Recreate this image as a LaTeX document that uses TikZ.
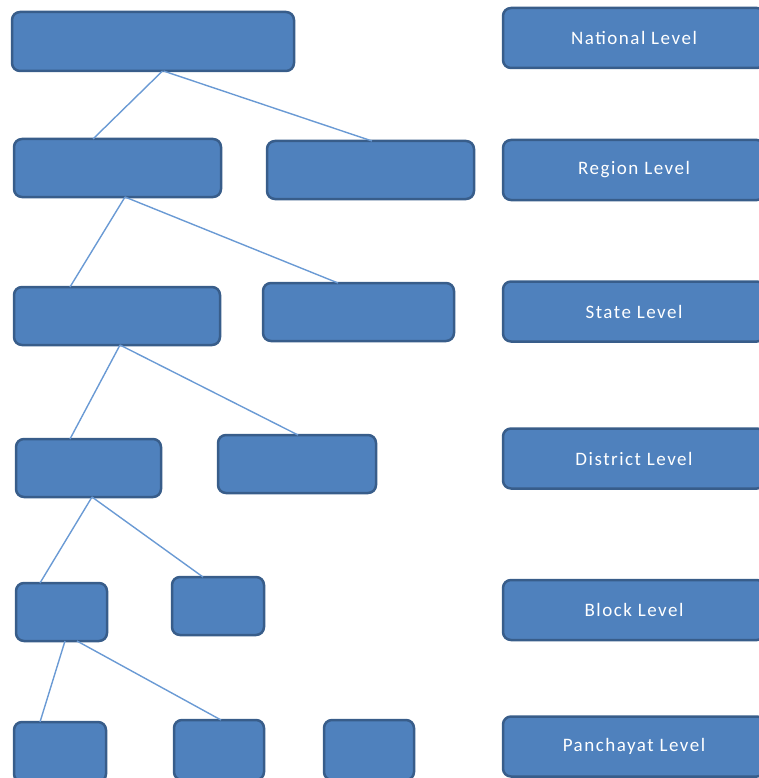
\documentclass[tikz,border=0pt]{standalone}
\usepackage{fontspec}
\newfontfamily\labfont[LetterSpace=8]{Carlito}
\definecolor{boxfill}{HTML}{4F81BD}
\definecolor{boxdraw}{HTML}{385D8A}
\definecolor{linkcol}{HTML}{6A9AD4}
\tikzset{
  box/.style={draw=boxdraw, fill=boxfill, line width=2.5pt, rounded corners=8pt, outer sep=0pt, minimum height=58pt, inner sep=0pt},
  lvl/.style={box, minimum width=262pt, minimum height=60pt, text=white, font=\labfont\fontsize{19}{22}\selectfont},
  link/.style={draw=linkcol, line width=1.4pt}
}
\begin{document}
\begin{tikzpicture}[x=1pt,y=-1pt]
\useasboundingbox (0,0) rectangle (758,778);
% tree boxes
\node[box, minimum width=282pt, minimum height=59pt] (n0) at (153,41.5) {};
\node[box, minimum width=207pt] (r1) at (117.5,168) {};
\node[box, minimum width=207pt] (r2) at (370.5,170) {};
\node[box, minimum width=206pt] (s1) at (117,316) {};
\node[box, minimum width=191pt] (s2) at (358.5,312) {};
\node[box, minimum width=145pt] (d1) at (88.5,468) {};
\node[box, minimum width=158pt] (d2) at (297,464) {};
\node[box, minimum width=91pt] (b1) at (61.5,612) {};
\node[box, minimum width=92pt] (b2) at (218,606) {};
\node[box, minimum width=92pt, minimum height=60pt] (p1) at (60,752) {};
\node[box, minimum width=90pt, minimum height=60pt] (p2) at (219,750) {};
\node[box, minimum width=90pt, minimum height=60pt] (p3) at (369,750) {};
% level labels
\node[lvl] (l1) at (634,38) {National Level};
\node[lvl] (l2) at (634,170) {Region Level};
\node[lvl] (l3) at (634,311.5) {State Level};
\node[lvl] (l4) at (634,458.5) {District Level};
\node[lvl] (l5) at (634,610) {Block Level};
\node[lvl] (l6) at (634,746.5) {Panchayat Level};
% connectors
\draw[link] ([xshift=9.5pt]n0.south) -- ([xshift=-24.5pt]r1.north);
\draw[link] ([xshift=10.5pt]n0.south) -- ([xshift=1.5pt]r2.north);
\draw[link] ([xshift=7.5pt]r1.south) -- ([xshift=-47pt]s1.north);
\draw[link] ([xshift=7.5pt]r1.south) -- ([xshift=-20.5pt]s2.north);
\draw[link] ([xshift=3pt]s1.south) -- ([xshift=-18.5pt]d1.north);
\draw[link] ([xshift=3pt]s1.south) -- ([xshift=1pt]d2.north);
\draw[link] ([xshift=3.5pt]d1.south) -- ([xshift=-21.5pt]b1.north);
\draw[link] ([xshift=3.5pt]d1.south) -- ([xshift=-15pt]b2.north);
\draw[link] ([xshift=3.5pt]b1.south) -- ([xshift=-20pt]p1.north);
\draw[link] ([xshift=15.5pt]b1.south) -- ([xshift=2pt]p2.north);
\end{tikzpicture}
\end{document}
